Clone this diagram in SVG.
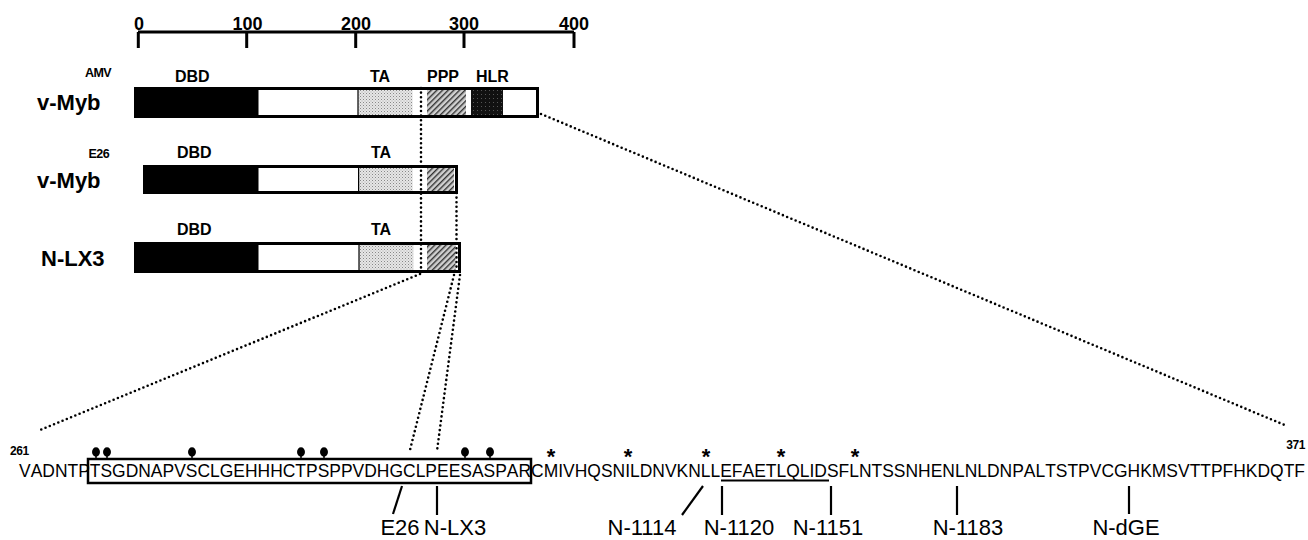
<svg xmlns="http://www.w3.org/2000/svg" width="1308" height="540" viewBox="0 0 1308 540">
<defs>
<pattern id="stip" width="3" height="3" patternUnits="userSpaceOnUse">
<rect width="3" height="3" fill="#e6e6e6"/>
<rect x="0" y="0" width="1" height="1" fill="#888"/>
<rect x="1.5" y="1.5" width="1" height="1" fill="#aaa"/>
</pattern>
<pattern id="hatch" width="4" height="4" patternUnits="userSpaceOnUse" patternTransform="rotate(45)">
<rect width="4" height="4" fill="#d0d0d0"/>
<rect x="0" y="0" width="1.4" height="4" fill="#333"/>
</pattern>
<pattern id="dark" width="4" height="4" patternUnits="userSpaceOnUse">
<rect width="4" height="4" fill="#111"/>
<rect x="1" y="2" width="1" height="1" fill="#555"/>
</pattern>
</defs>
<style>
.lab{font-family:"Liberation Sans",Arial,sans-serif;font-weight:bold;fill:#000}
.seq{font-family:"Liberation Sans",Arial,sans-serif;font-size:17.45px;fill:#000;font-kerning:none}
.mut{font-family:"Liberation Sans",Arial,sans-serif;font-size:22px;fill:#000;text-anchor:middle}
.bar{fill:#fff;stroke:#000;stroke-width:3}
.dot{fill:none;stroke:#000;stroke-width:2.6;stroke-linecap:round;stroke-dasharray:0 4.6}
.tick{stroke:#000;stroke-width:2.2;fill:none}
</style>

<g id="scale">
<line x1="138" y1="32" x2="574" y2="32" stroke="#000" stroke-width="3"/>
<g stroke="#000" stroke-width="3">
<line x1="138.3" y1="32" x2="138.3" y2="48"/>
<line x1="246.7" y1="32" x2="246.7" y2="48"/>
<line x1="355.7" y1="32" x2="355.7" y2="48"/>
<line x1="464" y1="32" x2="464" y2="48"/>
<line x1="574" y1="32" x2="574" y2="48"/>
</g>
<g class="lab" font-size="18" text-anchor="middle">
<text x="139" y="30">0</text>
<text x="247.5" y="30">100</text>
<text x="356" y="30">200</text>
<text x="464" y="30">300</text>
<text x="574" y="30">400</text>
</g>
</g>

<g id="amv">
<text class="lab" x="111" y="77" font-size="12.5" text-anchor="end" letter-spacing="-0.6">AMV</text>
<text class="lab" x="37" y="110" font-size="22">v-Myb</text>
<g class="lab" font-size="16">
<text x="175" y="82">DBD</text>
<text x="370" y="82">TA</text>
<text x="427" y="82">PPP</text>
<text x="476" y="82">HLR</text>
</g>
<rect class="bar" x="135.5" y="88.5" width="402" height="28"/>
<rect x="135.5" y="88.5" width="123" height="28" fill="#000"/>
<rect x="358" y="90" width="54.5" height="25" fill="url(#stip)"/>
<rect x="427" y="90" width="39" height="25" fill="url(#hatch)"/>
<rect x="471" y="90" width="32" height="25" fill="url(#dark)"/>
<line x1="358" y1="90" x2="358" y2="115" stroke="#000" stroke-width="1.2"/>
</g>

<g id="e26">
<text class="lab" x="109" y="158" font-size="12.5" text-anchor="end" letter-spacing="-0.6">E26</text>
<text class="lab" x="37" y="188" font-size="22">v-Myb</text>
<g class="lab" font-size="16">
<text x="177" y="158">DBD</text>
<text x="371" y="158">TA</text>
</g>
<rect class="bar" x="144.5" y="166.5" width="312" height="26"/>
<rect x="144.5" y="166.5" width="114" height="26" fill="#000"/>
<rect x="358.6" y="168" width="54" height="23" fill="url(#stip)"/>
<rect x="427" y="168" width="27" height="23" fill="url(#hatch)"/>
<line x1="358.6" y1="168" x2="358.6" y2="191" stroke="#000" stroke-width="1.2"/>
</g>

<g id="nlx3">
<text class="lab" x="41" y="266" font-size="22">N-LX3</text>
<g class="lab" font-size="16">
<text x="177" y="235">DBD</text>
<text x="371" y="235">TA</text>
</g>
<rect class="bar" x="135.5" y="243.5" width="324" height="28"/>
<rect x="135.5" y="243.5" width="123" height="28" fill="#000"/>
<rect x="359" y="245" width="54.5" height="25" fill="url(#stip)"/>
<rect x="427" y="245" width="28.5" height="25" fill="url(#hatch)"/>
<line x1="359" y1="245" x2="359" y2="270" stroke="#000" stroke-width="1.2"/>
</g>

<g id="connectors">
<line class="dot" x1="421" y1="88" x2="421" y2="273"/>
<line class="dot" x1="456.5" y1="193" x2="456.5" y2="273"/>
<line class="dot" x1="541" y1="114" x2="1287" y2="426"/>
<line class="dot" x1="420" y1="274" x2="40" y2="430"/>
<line class="dot" x1="454" y1="275" x2="410" y2="450"/>
<line class="dot" x1="460" y1="275" x2="437" y2="451"/>
</g>

<g id="sequence">
<text class="lab" x="10" y="455" font-size="12" letter-spacing="-0.4">261</text>
<text class="lab" x="1305" y="449" font-size="12" text-anchor="end" letter-spacing="-0.4">371</text>
<text class="seq" x="19" y="477" textLength="1286" lengthAdjust="spacing">VADNTPTSGDNAPVSCLGEHHHCTPSPPVDHGCLPEESASPARCMIVHQSNILDNVKNLLEFAETLQLIDSFLNTSSNHENLNLDNPALTSTPVCGHKMSVTTPFHKDQTF</text>
<rect x="88" y="459" width="443" height="24" fill="none" stroke="#000" stroke-width="2.5"/>
<line x1="721" y1="480.5" x2="829" y2="480.5" stroke="#000" stroke-width="1.8"/>
<g fill="#000" stroke="#000" stroke-width="1.5">
<ellipse cx="96" cy="452" rx="3.2" ry="4"/><line x1="96" y1="455" x2="96" y2="459"/>
<ellipse cx="107" cy="452" rx="3.2" ry="4"/><line x1="107" y1="455" x2="107" y2="459"/>
<ellipse cx="192" cy="452" rx="3.2" ry="4"/><line x1="192" y1="455" x2="192" y2="459"/>
<ellipse cx="301" cy="452" rx="3.2" ry="4"/><line x1="301" y1="455" x2="301" y2="459"/>
<ellipse cx="324" cy="452" rx="3.2" ry="4"/><line x1="324" y1="455" x2="324" y2="459"/>
<ellipse cx="465" cy="452" rx="3.2" ry="4"/><line x1="465" y1="455" x2="465" y2="459"/>
<ellipse cx="490" cy="452" rx="3.2" ry="4"/><line x1="490" y1="455" x2="490" y2="459"/>
</g>
<g class="lab" font-size="22" text-anchor="middle">
<text x="551" y="464">*</text>
<text x="628" y="464">*</text>
<text x="706" y="464">*</text>
<text x="781" y="464">*</text>
<text x="855" y="464">*</text>
</g>
</g>

<g id="mutants">
<line class="tick" x1="402" y1="486" x2="393" y2="514"/>
<line class="tick" x1="437" y1="486" x2="437" y2="515"/>
<line class="tick" x1="703" y1="486" x2="682" y2="515"/>
<line class="tick" x1="722" y1="486" x2="722" y2="515"/>
<line class="tick" x1="831" y1="486" x2="831" y2="515"/>
<line class="tick" x1="957" y1="486" x2="957" y2="515"/>
<line class="tick" x1="1129" y1="486" x2="1129" y2="514"/>
<text class="mut" x="400" y="535">E26</text>
<text class="mut" x="455" y="535">N-LX3</text>
<text class="mut" x="642" y="535">N-1114</text>
<text class="mut" x="739" y="535">N-1120</text>
<text class="mut" x="828" y="535">N-1151</text>
<text class="mut" x="968" y="535">N-1183</text>
<text class="mut" x="1126" y="535">N-dGE</text>
</g>
</svg>
